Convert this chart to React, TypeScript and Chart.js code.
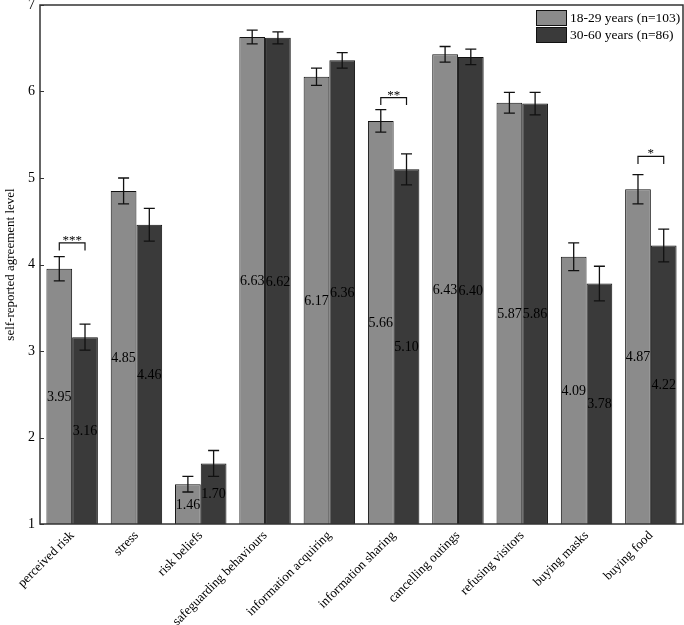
import React, { useEffect, useRef } from 'react';
import { Chart, registerables } from 'chart.js';

Chart.register(...registerables);

const categories = [
  'perceived risk',
  'stress',
  'risk beliefs',
  'safeguarding behaviours',
  'information acquiring',
  'information sharing',
  'cancelling outings',
  'refusing visitors',
  'buying masks',
  'buying food',
];
const seriesLabels = ['18-29 years (n=103)', '30-60 years (n=86)'];
const youngMeans = [3.95, 4.85, 1.46, 6.63, 6.17, 5.66, 6.43, 5.87, 4.09, 4.87];
const olderMeans = [3.16, 4.46, 1.7, 6.62, 6.36, 5.1, 6.4, 5.86, 3.78, 4.22];
const youngErrors = [0.14, 0.15, 0.09, 0.08, 0.1, 0.13, 0.09, 0.12, 0.16, 0.17];
const olderErrors = [0.15, 0.19, 0.15, 0.07, 0.09, 0.18, 0.09, 0.13, 0.2, 0.19];
const sigCategoryIndex = [0, 5, 9];
const sigMarks = ['***', '**', '*'];
const sigBracketLevel = [4.25, 5.93, 5.25];
const yMin = 1;
const yMax = 7;
const yTitle = 'self-reported agreement level';

const FONT = "'Liberation Serif', 'Times New Roman', serif";
const LIGHT = '#8b8b8b';
const DARK = '#3a3a3a';

const overlay = {
  id: 'overlay',
  afterDatasetsDraw(chart: any) {
    const { ctx, chartArea: a, scales } = chart;
    const y = scales.y;
    const means = [youngMeans, olderMeans];
    const errs = [youngErrors, olderErrors];
    const basePx = y.getPixelForValue(yMin);
    ctx.save();

    // frame
    ctx.strokeStyle = '#333';
    ctx.lineWidth = 1.5;
    ctx.strokeRect(a.left, a.top, a.right - a.left, a.bottom - a.top);

    // inner y ticks
    ctx.lineWidth = 1;
    for (let v = yMin; v <= yMax; v++) {
      const py = Math.round(y.getPixelForValue(v)) + 0.5;
      ctx.beginPath();
      ctx.moveTo(a.left, py);
      ctx.lineTo(a.left + 4, py);
      ctx.stroke();
    }

    // error bars
    ctx.strokeStyle = '#111';
    ctx.lineWidth = 1.3;
    for (let d = 0; d < 2; d++) {
      const meta = chart.getDatasetMeta(d);
      meta.data.forEach((bar: any, i: number) => {
        const top = y.getPixelForValue(means[d][i] + errs[d][i]);
        const bot = y.getPixelForValue(means[d][i] - errs[d][i]);
        ctx.beginPath();
        ctx.moveTo(bar.x, top);
        ctx.lineTo(bar.x, bot);
        ctx.moveTo(bar.x - 5.5, top);
        ctx.lineTo(bar.x + 5.5, top);
        ctx.moveTo(bar.x - 5.5, bot);
        ctx.lineTo(bar.x + 5.5, bot);
        ctx.stroke();
      });
    }

    // value labels
    ctx.fillStyle = '#000';
    ctx.font = `14px ${FONT}`;
    ctx.textAlign = 'center';
    ctx.textBaseline = 'middle';
    for (let d = 0; d < 2; d++) {
      const meta = chart.getDatasetMeta(d);
      meta.data.forEach((bar: any, i: number) => {
        const top = y.getPixelForValue(means[d][i]);
        ctx.fillText(means[d][i].toFixed(2), bar.x, (top + basePx) / 2 + 1);
      });
    }

    // significance brackets
    ctx.strokeStyle = '#111';
    ctx.lineWidth = 1.2;
    ctx.font = `13px ${FONT}`;
    ctx.textAlign = 'center';
    ctx.textBaseline = 'alphabetic';
    sigCategoryIndex.forEach((ci, k) => {
      const b1 = chart.getDatasetMeta(0).data[ci];
      const b2 = chart.getDatasetMeta(1).data[ci];
      const py = y.getPixelForValue(sigBracketLevel[k]);
      ctx.beginPath();
      ctx.moveTo(b1.x, py + 7.5);
      ctx.lineTo(b1.x, py);
      ctx.lineTo(b2.x, py);
      ctx.lineTo(b2.x, py + 7.5);
      ctx.stroke();
      ctx.fillText(sigMarks[k], (b1.x + b2.x) / 2, py + 1);
    });

    // legend
    const colors = [LIGHT, DARK];
    ctx.font = `13.5px ${FONT}`;
    ctx.textAlign = 'left';
    ctx.textBaseline = 'middle';
    seriesLabels.forEach((lab, k) => {
      const bx = a.right - 147;
      const by = a.top + 5 + k * 17;
      ctx.fillStyle = colors[k];
      ctx.fillRect(bx, by, 30, 15);
      ctx.strokeStyle = '#111';
      ctx.lineWidth = 1;
      ctx.strokeRect(bx + 0.5, by + 0.5, 30, 15);
      ctx.fillStyle = '#000';
      ctx.fillText(lab, bx + 34, by + 8);
    });

    ctx.restore();
  },
};

export default function App() {
  const canvasRef = useRef<HTMLCanvasElement | null>(null);

  useEffect(() => {
    document.body.style.margin = '0';
    const canvas = canvasRef.current;
    if (!canvas) return;
    const chart = new Chart(canvas, {
      type: 'bar',
      data: {
        labels: categories,
        datasets: [
          {
            label: seriesLabels[0],
            data: youngMeans,
            backgroundColor: LIGHT,
            borderColor: '#111',
            borderWidth: 1,
            categoryPercentage: 0.8,
            barPercentage: 1.0,
          },
          {
            label: seriesLabels[1],
            data: olderMeans,
            backgroundColor: DARK,
            borderColor: '#111',
            borderWidth: 1,
            categoryPercentage: 0.8,
            barPercentage: 1.0,
          },
        ],
      },
      options: {
        responsive: false,
        animation: false,
        layout: { padding: { top: 5, right: 1, left: 0, bottom: 0 } },
        plugins: {
          legend: { display: false },
          tooltip: { enabled: false },
          title: { display: false },
        },
        scales: {
          x: {
            grid: { display: false, drawTicks: false },
            border: { display: false },
            ticks: {
              autoSkip: false,
              maxRotation: 45,
              minRotation: 45,
              padding: 4,
              color: '#000',
              font: { family: FONT, size: 13 },
            },
            afterFit: (s: any) => {
              s.height = 101;
              s.paddingLeft = 0;
              s.paddingRight = 0;
            },
          },
          y: {
            min: yMin,
            max: yMax,
            grid: { display: false, drawTicks: false },
            border: { display: false },
            ticks: {
              stepSize: 1,
              padding: 5,
              color: '#000',
              font: { family: FONT, size: 14 },
            },
            title: {
              display: true,
              text: yTitle,
              color: '#000',
              font: { family: FONT, size: 13 },
              padding: { top: 3, bottom: 0 },
            },
            afterFit: (s: any) => {
              s.width = 40;
              s.paddingTop = 0;
              s.paddingBottom = 0;
            },
          },
        },
      },
      plugins: [overlay],
    });
    return () => chart.destroy();
  }, []);

  return (
    <div style={{ width: 684, height: 625 }}>
      <canvas ref={canvasRef} width={684} height={625} />
    </div>
  );
}
